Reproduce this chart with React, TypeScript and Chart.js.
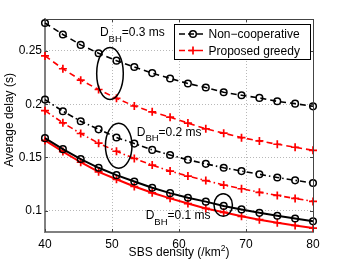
import { useEffect, useRef } from "react";
import { Chart, registerables } from "chart.js";

Chart.register(...registerables);

const densities = [40, 42.67, 45.33, 48, 50.67, 53.33, 56, 58.67, 61.33, 64, 66.67, 69.33, 72, 74.67, 77.33, 80];

const nonCoop03 = [0.2762, 0.2655, 0.2557, 0.2478, 0.2409, 0.2349, 0.2292, 0.2242, 0.2194, 0.2157, 0.2112, 0.2084, 0.2059, 0.2027, 0.2005, 0.198];
const greedy03 = [0.2453, 0.2333, 0.2226, 0.2138, 0.2055, 0.1983, 0.1928, 0.1878, 0.1823, 0.1769, 0.1728, 0.1686, 0.1655, 0.1624, 0.1596, 0.1567];
const nonCoop02 = [0.2043, 0.1934, 0.184, 0.1764, 0.1688, 0.163, 0.1571, 0.1523, 0.1478, 0.144, 0.1403, 0.1372, 0.1342, 0.1312, 0.1285, 0.126];
const greedy02 = [0.1939, 0.1825, 0.1725, 0.1634, 0.1558, 0.149, 0.1428, 0.1372, 0.1325, 0.1283, 0.1241, 0.1206, 0.1173, 0.1143, 0.1115, 0.1087];
const nonCoop01 = [0.1681, 0.1578, 0.1485, 0.1403, 0.1334, 0.1274, 0.1215, 0.1165, 0.1122, 0.1085, 0.1045, 0.1012, 0.098, 0.0953, 0.0927, 0.0901];
const greedy01 = [0.166, 0.1555, 0.1455, 0.1365, 0.1295, 0.1227, 0.1168, 0.1116, 0.1067, 0.1021, 0.0985, 0.0947, 0.0916, 0.0887, 0.0861, 0.0837];

const xTickValues = [40, 50, 60, 70, 80];
const yTickValues = [0.1, 0.15, 0.2, 0.25];
const yTickLabels = ["0.1", "0.15", "0.2", "0.25"];

const legendLabels = ["Non\u2212cooperative", "Proposed greedy"];
const groupLabels = ["=0.3 ms", "=0.2 ms", "=0.1 ms"];
// annotation anchors in data units
const labelAnchors = [
  { x: 48.2, y: 0.2636 },
  { x: 53.69, y: 0.1705 },
  { x: 55.03, y: 0.0918 },
];
const ellipseAnchors = [
  { x: 49.7, y: 0.2289, rx: 13.3, ry: 26 },
  { x: 51.0, y: 0.161, rx: 13.3, ry: 22.5 },
  { x: 66.6, y: 0.1054, rx: 9.2, ry: 11.2 },
];

const FONT = '"Liberation Sans", Arial, Helvetica, sans-serif';

export default function App() {
  const ref = useRef<HTMLCanvasElement>(null);

  useEffect(() => {
    const canvas = ref.current;
    if (!canvas) return;

    const mk = (label: string, vals: number[], color: string, dash: number[], isNC: boolean, width: number) => ({
      label,
      data: densities.map((x, i) => ({ x, y: vals[i] })),
      borderColor: color,
      backgroundColor: "rgba(0,0,0,0)",
      borderWidth: width,
      borderDash: dash,
      pointStyle: isNC ? "circle" : "cross",
      pointRadius: isNC ? 3.3 : 4,
      pointBorderWidth: isNC ? 1.5 : 1.7,
      pointBorderColor: color,
      pointBackgroundColor: "rgba(0,0,0,0)",
      fill: false,
      tension: 0,
      clip: false,
      order: isNC ? 0 : 1,
    });

    const overlay = {
      id: "overlay",
      afterDatasetsDraw(chart: any) {
        const ctx = chart.ctx as CanvasRenderingContext2D;
        const { left, right, top, bottom } = chart.chartArea;
        const xs = chart.scales.x;
        const ys = chart.scales.y;
        ctx.save();
        // box (top and right)
        ctx.strokeStyle = "#444";
        ctx.lineWidth = 1;
        ctx.setLineDash([]);
        ctx.beginPath();
        ctx.moveTo(left, top + 0.5);
        ctx.lineTo(right + 0.5, top + 0.5);
        ctx.lineTo(right + 0.5, bottom);
        ctx.stroke();
        // inward ticks
        ctx.beginPath();
        yTickValues.forEach((v) => {
          const py = Math.round(ys.getPixelForValue(v)) + 0.5;
          ctx.moveTo(left, py);
          ctx.lineTo(left + 3, py);
          ctx.moveTo(right, py);
          ctx.lineTo(right - 3, py);
        });
        xTickValues.forEach((v) => {
          const px = Math.round(xs.getPixelForValue(v)) + 0.5;
          ctx.moveTo(px, bottom);
          ctx.lineTo(px, bottom - 3);
          ctx.moveTo(px, top);
          ctx.lineTo(px, top + 3);
        });
        ctx.stroke();

        // ellipses
        ctx.strokeStyle = "#000";
        ctx.lineWidth = 1.5;
        ellipseAnchors.forEach((e) => {
          ctx.beginPath();
          ctx.ellipse(xs.getPixelForValue(e.x), ys.getPixelForValue(e.y), e.rx, e.ry, 0, 0, Math.PI * 2);
          ctx.stroke();
        });

        // group labels
        ctx.fillStyle = "#000";
        ctx.textAlign = "left";
        ctx.textBaseline = "alphabetic";
        labelAnchors.forEach((a, i) => {
          const px = xs.getPixelForValue(a.x);
          const py = ys.getPixelForValue(a.y);
          ctx.font = `12px ${FONT}`;
          ctx.fillText("D", px, py);
          const w1 = ctx.measureText("D").width;
          ctx.font = `9.5px ${FONT}`;
          ctx.fillText("BH", px + w1, py + 5.5);
          const w2 = ctx.measureText("BH").width;
          ctx.font = `12px ${FONT}`;
          ctx.fillText(groupLabels[i], px + w1 + w2, py);
        });

        // legend
        const lx = 174.5, ly = 24.5, lw = 136, lh = 35;
        ctx.fillStyle = "#fff";
        ctx.fillRect(lx, ly, lw, lh);
        ctx.strokeStyle = "#000";
        ctx.lineWidth = 1;
        ctx.strokeRect(lx, ly, lw, lh);
        const rows = [
          { y: 34, color: "#000", nc: true },
          { y: 50.5, color: "#ff0000", nc: false },
        ];
        rows.forEach((r, i) => {
          ctx.strokeStyle = r.color;
          ctx.lineWidth = 1.6;
          ctx.setLineDash([6, 3]);
          ctx.beginPath();
          ctx.moveTo(179, r.y);
          ctx.lineTo(206, r.y);
          ctx.stroke();
          ctx.setLineDash([]);
          ctx.lineWidth = r.nc ? 1.5 : 1.7;
          ctx.beginPath();
          if (r.nc) {
            ctx.arc(193, r.y, 3.3, 0, Math.PI * 2);
          } else {
            ctx.moveTo(189, r.y);
            ctx.lineTo(197, r.y);
            ctx.moveTo(193, r.y - 4);
            ctx.lineTo(193, r.y + 4);
          }
          ctx.stroke();
          ctx.fillStyle = "#000";
          ctx.font = `12px ${FONT}`;
          ctx.fillText(legendLabels[i], 208.5, r.y + 4);
        });

        // axis titles
        ctx.fillStyle = "#000";
        const main = "SBS density (/km";
        ctx.font = `12px ${FONT}`;
        const wm = ctx.measureText(main).width;
        const wc = ctx.measureText(")").width;
        ctx.font = `8.5px ${FONT}`;
        const ws = ctx.measureText("2").width;
        const total = wm + ws + wc;
        const cx = (left + right) / 2;
        let sx = cx - total / 2;
        const by = 256;
        ctx.font = `12px ${FONT}`;
        ctx.fillText(main, sx, by);
        sx += wm;
        ctx.font = `8.5px ${FONT}`;
        ctx.fillText("2", sx, by - 5);
        sx += ws;
        ctx.font = `12px ${FONT}`;
        ctx.fillText(")", sx, by);

        ctx.translate(13, 120);
        ctx.rotate(-Math.PI / 2);
        ctx.textAlign = "center";
        ctx.fillText("Average delay (s)", 0, 0);
        ctx.restore();
      },
    };

    const chart = new Chart(canvas, {
      type: "line",
      data: {
        datasets: [
          mk("nc03", nonCoop03, "#000", [6, 4], true, 1.6),
          mk("nc02", nonCoop02, "#000", [6, 3, 1.5, 3], true, 1.6),
          mk("nc01", nonCoop01, "#000", [], true, 2),
          mk("g03", greedy03, "#ff0000", [6, 4], false, 1.6),
          mk("g02", greedy02, "#ff0000", [6, 3, 1.5, 3], false, 1.6),
          mk("g01", greedy01, "#ff0000", [], false, 2),
        ] as any,
      },
      options: {
        responsive: false,
        animation: false,
        devicePixelRatio: 1,
        layout: { padding: { left: 0, top: 19, right: 33, bottom: 0 } },
        plugins: { legend: { display: false }, tooltip: { enabled: false }, title: { display: false } },
        scales: {
          x: {
            type: "linear",
            min: 40,
            max: 80,
            afterBuildTicks: (s: any) => {
              s.ticks = xTickValues.map((v) => ({ value: v }));
            },
            afterFit: (s: any) => {
              s.height = 34;
            },
            grid: { color: "#b8b8b8", lineWidth: 1, drawTicks: false } as any,
            border: { display: true, color: "#808080", width: 2, dash: [1, 2] } as any,
            ticks: {
              padding: 5,
              color: "#000",
              font: { family: FONT, size: 12 },
              maxRotation: 0,
              callback: (v: any) => String(v),
            },
          },
          y: {
            type: "linear",
            min: 0.08,
            max: 0.28,
            afterBuildTicks: (s: any) => {
              s.ticks = yTickValues.map((v) => ({ value: v }));
            },
            afterFit: (s: any) => {
              s.width = 45;
            },
            grid: { color: "#b8b8b8", lineWidth: 1, drawTicks: false } as any,
            border: { display: true, color: "#808080", width: 2, dash: [1, 2] } as any,
            ticks: {
              padding: 3,
              color: "#000",
              font: { family: FONT, size: 12 },
              callback: (v: any) => {
                const i = yTickValues.findIndex((t) => Math.abs(t - v) < 1e-9);
                return i >= 0 ? yTickLabels[i] : "";
              },
            },
          },
        },
      },
      plugins: [overlay],
    } as any);

    return () => chart.destroy();
  }, []);

  return (
    <div style={{ position: "absolute", left: 0, top: 0, width: 346, height: 266, background: "#fff" }}>
      <canvas ref={ref} width={346} height={266} style={{ display: "block" }} />
    </div>
  );
}
